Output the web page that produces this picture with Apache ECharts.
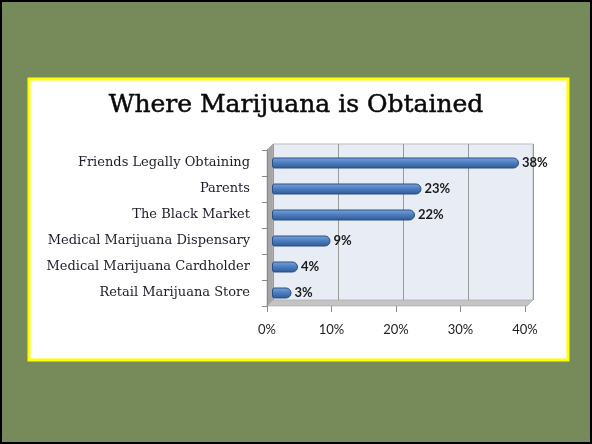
<!DOCTYPE html>
<html>
<head>
<meta charset="utf-8">
<script src="https://cdn.jsdelivr.net/npm/echarts@6/dist/echarts.min.js"></script>
<style>
    html, body { margin: 0; padding: 0; }
    #chart { width: 592px; height: 444px; }
</style>
</head>
<body>
<div id="chart"></div>
<script>
// 数据
const categories = ['Friends Legally Obtaining', 'Parents', 'The Black Market',
    'Medical Marijuana Dispensary', 'Medical Marijuana Cardholder', 'Retail Marijuana Store'];
const percents = [38, 23, 22, 9, 4, 3];
const xTicks = [0, 10, 20, 30, 40];

const serif = '"DejaVu Serif", "Liberation Serif", serif';
const sans = 'Lato, "Open Sans", sans-serif';

// 三个网格：后墙、柱子、前平面（坐标轴）
const back = {left: 273, top: 144, width: 260, height: 156};
const bars = {left: 272, top: 150, width: 260, height: 156};
const front = {left: 267, top: 150, width: 258, height: 156};

const myChart = echarts.init(document.getElementById('chart'));

const option = {
    backgroundColor: '#778a5a',
    animation: false,
    title: {
        text: 'Where Marijuana is Obtained',
        left: 'center',
        top: 88,
        textStyle: {fontFamily: serif, fontSize: 25, fontWeight: 'normal', color: '#0a0a0a',
            textBorderColor: '#0a0a0a', textBorderWidth: 0.5}
    },
    graphic: [
        {type: 'rect', z: -10, shape: {x: 1, y: 1, width: 590, height: 442},
            style: {fill: 'none', stroke: '#000', lineWidth: 2}},
        {type: 'rect', z: -10, shape: {x: 29, y: 79, width: 539, height: 281},
            style: {fill: '#fff', stroke: '#ffff00', lineWidth: 3}},
        // 侧墙
        {type: 'polygon', z: -5, shape: {points: [[267, 150], [273, 144], [273, 300], [267, 306]]},
            style: {fill: '#a6a6a6', stroke: '#8c8c8c', lineWidth: 0.5}},
        // 地板
        {type: 'polygon', z: -5, shape: {points: [[267, 306], [273, 300], [533, 300], [527, 306]]},
            style: {fill: '#c4c4c4', stroke: '#9a9a9a', lineWidth: 0.5}}
    ],
    grid: [
        Object.assign({show: true, backgroundColor: '#e8ecf5', borderColor: '#bdbdbd', borderWidth: 1}, back),
        bars,
        front
    ],
    xAxis: [
        {gridIndex: 0, type: 'value', min: 0, max: 40, interval: 10,
            axisLine: {show: false}, axisTick: {show: false}, axisLabel: {show: false},
            splitLine: {lineStyle: {color: '#9a9a9a', width: 1}}},
        {gridIndex: 1, type: 'value', min: 0, max: 40, interval: 10, show: false},
        {gridIndex: 2, type: 'value', min: 0, max: 40, interval: 10,
            data: xTicks,
            axisLine: {show: false},
            axisTick: {show: true, length: 6, lineStyle: {color: '#888'}},
            axisLabel: {margin: 17, fontFamily: sans, fontSize: 13, color: '#222',
                formatter: v => v + '%'},
            splitLine: {show: false}}
    ],
    yAxis: [
        {gridIndex: 0, type: 'category', data: categories, inverse: true, show: false},
        {gridIndex: 1, type: 'category', data: categories, inverse: true, show: false},
        {gridIndex: 2, type: 'category', data: categories, inverse: true,
            axisLine: {show: true, lineStyle: {color: '#888'}},
            axisTick: {show: true, length: 5, lineStyle: {color: '#888'}},
            axisLabel: {margin: 17, fontFamily: serif, fontSize: 13, color: '#1c1c2c'}}
    ],
    series: [
        {
            type: 'bar',
            xAxisIndex: 1,
            yAxisIndex: 1,
            data: percents,
            barWidth: 11,
            itemStyle: {
                borderRadius: [2, 5, 5, 2],
                borderColor: '#2a4f86',
                borderWidth: 1,
                color: new echarts.graphic.LinearGradient(0, 0, 0, 1, [
                    {offset: 0, color: '#7aa6de'},
                    {offset: 0.45, color: '#4f7fc0'},
                    {offset: 1, color: '#2e5994'}
                ])
            },
            label: {
                show: true,
                position: 'right',
                distance: 3,
                formatter: '{c}%',
                fontFamily: sans,
                fontSize: 13,
                fontWeight: 'bold',
                color: '#1a1a1a'
            }
        }
    ]
};

myChart.setOption(option);
</script>
</body>
</html>
